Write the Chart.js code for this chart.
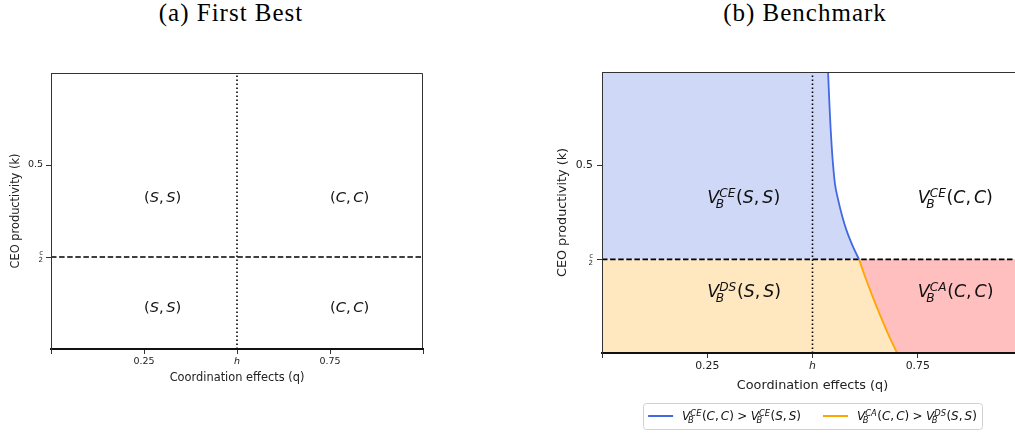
<!DOCTYPE html>
<html>
<head>
<meta charset="utf-8">
<script src="https://cdn.jsdelivr.net/npm/chart.js@4.4.1/dist/chart.umd.min.js"></script>
<style>
  html, body { margin: 0; padding: 0; background: #fff; width: 1015px; height: 435px; overflow: hidden; }
  .cap { position: absolute; top: 0; font-family: "Liberation Serif", serif; font-size: 25px; line-height: 26px;
         letter-spacing: 1px; color: #000; white-space: nowrap; transform: translateX(-50%); }
  canvas { position: absolute; top: 0; }
</style>
</head>
<body>
<div class="cap" style="left:231px">(a) First Best</div>
<div class="cap" style="left:805px">(b) Benchmark</div>
<canvas id="fb" width="507" height="435" style="left:0"></canvas>
<canvas id="bm" width="530" height="435" style="left:507px"></canvas>
<script>
// axis ticks
const qTicks = [0, 0.25, 0.5, 0.75, 1];
const qTickLabels = ['', '0.25', 'h', '0.75', ''];
const kTicks = [0.25, 0.5];
const kTickLabels = [['c', '2'], '0.5'];
const kMax = 0.75;
const hValue = 0.5;
const halfC = 0.25;

// boundary curves of panel (b)
const blueQ = [0.537, 0.5388, 0.5408, 0.543, 0.5457, 0.549, 0.5535, 0.5607, 0.5706, 0.580, 0.5901, 0.5997, 0.6105];
const blueK = [0.75, 0.70, 0.65, 0.60, 0.55, 0.50, 0.45, 0.41, 0.365, 0.33, 0.30, 0.275, 0.25];
const orangeQ = [0.6105, 0.626, 0.643, 0.661, 0.680, 0.701];
const orangeK = [0.25, 0.20, 0.15, 0.10, 0.05, 0];

// region labels
const labelsA = ['(S,S)', '(C,C)', '(S,S)', '(C,C)'];
const labelsAQ = [0.25, 0.75, 0.25, 0.75];
const labelsAK = [0.4, 0.4, 0.1, 0.1];
const labelsB = ['V_B^{CE}(S,S)', 'V_B^{CE}(C,C)', 'V_B^{DS}(S,S)', 'V_B^{CA}(C,C)'];
const labelsBQ = [0.25, 0.75, 0.25, 0.75];
const labelsBK = [0.4, 0.4, 0.15, 0.15];
const legendB = ['V_B^{CE}(C,C) > V_B^{CE}(S,S)', 'V_B^{CA}(C,C) > V_B^{DS}(S,S)'];

const SANS = '"DejaVu Sans"';
const pts = (qs, ks) => qs.map((q, i) => ({x: q, y: ks[i]}));

// --- tiny mathtext: letters italic, _{} and ^{} scripts ---
function parseMath(s) {
  const toks = [];
  let i = 0;
  while (i < s.length) {
    const ch = s[i];
    if (ch === '_' || ch === '^') {
      let grp;
      if (s[i + 1] === '{') { const e = s.indexOf('}', i + 1); grp = s.slice(i + 2, e); i = e + 1; }
      else { grp = s[i + 1]; i += 2; }
      toks[toks.length - 1][ch === '_' ? 'sub' : 'sup'] = grp;
    } else {
      if (ch !== ' ') toks.push({t: ch});
      i++;
    }
  }
  return toks;
}
function mfont(size, ch) {
  return (/[A-Za-z]/.test(ch) ? 'italic ' : '') + size + 'px ' + SANS;
}
function layoutMath(ctx, s, size) {
  const items = [];
  let x = 0;
  parseMath(s).forEach(tk => {
    if (tk.t === '>') x += size * 0.28;
    ctx.font = mfont(size, tk.t);
    items.push({ch: tk.t, x: x, dy: 0, size: size});
    x += ctx.measureText(tk.t).width;
    if (tk.t === '>') x += size * 0.28;
    if (tk.t === ',') x += size * 0.17;
    if (tk.sup || tk.sub) {
      const ss = size * 0.7;
      let w = 0;
      if (tk.sup) {
        let xx = x;
        for (const ch of tk.sup) { items.push({ch, x: xx, dy: -size * 0.36, size: ss}); ctx.font = mfont(ss, ch); xx += ctx.measureText(ch).width; }
        w = Math.max(w, xx - x);
      }
      if (tk.sub) {
        let xx = x - size * 0.2;
        for (const ch of tk.sub) { items.push({ch, x: xx, dy: size * (tk.sup ? 0.28 : 0.2), size: ss}); ctx.font = mfont(ss, ch); xx += ctx.measureText(ch).width; }
        w = Math.max(w, xx - x);
      }
      x += w + size * 0.04;
    }
  });
  return {items, width: x};
}
function drawMath(ctx, s, x, y, size) {
  const lay = layoutMath(ctx, s, size);
  ctx.save();
  ctx.fillStyle = '#111';
  ctx.textBaseline = 'alphabetic';
  ctx.textAlign = 'left';
  lay.items.forEach(it => { ctx.font = mfont(it.size, it.ch); ctx.fillText(it.ch, x + it.x, y + it.dy); });
  ctx.restore();
  return lay.width;
}

// --- plugins ---
const mathLabels = {
  id: 'mathLabels',
  afterDatasetsDraw(chart, args, opts) {
    const {ctx, scales: {x, y}} = chart;
    opts.texts.forEach((t, i) => drawMath(ctx, t, x.getPixelForValue(opts.q[i]), y.getPixelForValue(opts.k[i]), opts.size));
  }
};
const frame = {
  id: 'frame',
  afterDatasetsDraw(chart) {
    const {ctx, chartArea: a} = chart;
    ctx.save();
    ctx.strokeStyle = '#333';
    ctx.lineWidth = 1;
    ctx.beginPath();
    ctx.moveTo(a.left, a.top + 0.5);
    ctx.lineTo(a.right - 0.5, a.top + 0.5);
    ctx.lineTo(a.right - 0.5, a.bottom);
    ctx.stroke();
    ctx.restore();
  }
};
const mathLegend = {
  id: 'mathLegend',
  afterDraw(chart, args, opts) {
    const {ctx, chartArea: a} = chart;
    const size = opts.size, sample = 25, gap = 9, between = 22, pad = 5;
    const widths = opts.texts.map(t => layoutMath(ctx, t, size).width);
    let total = pad * 2 + between * (opts.texts.length - 1);
    widths.forEach(w => { total += sample + gap + w; });
    let x = (a.left + a.right) / 2 - total / 2;
    const top = opts.top, h = 26, mid = top + h / 2;
    ctx.save();
    ctx.fillStyle = 'rgba(255,255,255,0.8)';
    ctx.strokeStyle = '#d0d0d0';
    ctx.lineWidth = 1;
    ctx.beginPath();
    ctx.roundRect(Math.round(x) + 0.5, top + 0.5, Math.round(total), h, 3);
    ctx.fill();
    ctx.stroke();
    x += pad;
    opts.texts.forEach((t, i) => {
      ctx.strokeStyle = opts.colors[i];
      ctx.lineWidth = 2;
      ctx.beginPath();
      ctx.moveTo(x, mid);
      ctx.lineTo(x + sample, mid);
      ctx.stroke();
      x += sample + gap;
      drawMath(ctx, t, x, mid + 4, size);
      x += widths[i] + between;
    });
    ctx.restore();
  }
};

function axes(o) {
  return {
    x: {
      type: 'linear', min: 0, max: 1,
      afterBuildTicks: s => { s.ticks = qTicks.map(v => ({value: v})); },
      afterFit: s => { s.height = o.xh; },
      border: {display: true, color: '#111', width: 2, z: 1},
      grid: {drawOnChartArea: false, drawTicks: true, tickLength: o.tl, color: '#333'},
      ticks: {
        autoSkip: false, maxRotation: 0, padding: o.xpad, color: '#222',
        font: c => ({family: SANS, size: o.tick, style: (c.tick && c.tick.value === hValue) ? 'italic' : 'normal'}),
        callback: v => qTickLabels[qTicks.indexOf(v)]
      },
      title: {display: true, text: 'Coordination effects (q)', color: '#222',
              font: {family: SANS, size: o.lab}, padding: {top: 0, bottom: o.xtp}}
    },
    y: {
      type: 'linear', min: 0, max: kMax,
      afterBuildTicks: s => { s.ticks = kTicks.map(v => ({value: v})); },
      afterFit: s => { s.width = o.yw; },
      border: {display: true, color: '#333', width: 1, z: 1},
      grid: {drawOnChartArea: false, drawTicks: true, tickLength: o.tl, color: '#333'},
      ticks: {
        autoSkip: false, padding: o.ypad, color: '#222',
        font: c => (c.tick && c.tick.value === halfC) ? {family: SANS, size: 7, lineHeight: 1} : {family: SANS, size: o.tick},
        callback: v => kTickLabels[kTicks.indexOf(v)]
      },
      title: {display: true, text: 'CEO productivity (k)', color: '#222',
              font: {family: SANS, size: o.lab}, padding: {top: o.ytp, bottom: 0}}
    }
  };
}

const guideLines = [
  {data: [{x: 0, y: halfC}, {x: 1, y: halfC}], borderColor: '#000', borderWidth: 1.6, borderDash: [5.5, 2.6], order: 1},
  {data: [{x: hValue, y: 0}, {x: hValue, y: kMax}], borderColor: '#000', borderWidth: 1.6, borderDash: [1.6, 2.4], order: 1}
];
const base = {pointRadius: 0, fill: false, tension: 0};
const curve = {cubicInterpolationMode: 'monotone', borderWidth: 1.8, order: 0};
const area = {borderWidth: 0, borderColor: 'transparent', order: 5};

// (a) First Best
new Chart(document.getElementById('fb'), {
  type: 'line',
  data: {datasets: guideLines.map(d => Object.assign({}, base, d))},
  options: {
    responsive: false, animation: false, events: [],
    layout: {padding: {left: 0, top: 73, right: 84, bottom: 46}},
    scales: axes({xh: 40, yw: 51, tl: 5, xpad: 2, ypad: 3, tick: 9.5, lab: 11.4, xtp: 4.5, ytp: 9.2}),
    plugins: {
      legend: {display: false}, tooltip: {enabled: false},
      mathLabels: {texts: labelsA, q: labelsAQ, k: labelsAK, size: 14.7}
    }
  },
  plugins: [frame, mathLabels]
});

// (b) Benchmark
const blueColor = '#4169e1', orangeColor = '#ffa500';
new Chart(document.getElementById('bm'), {
  type: 'line',
  data: {
    datasets: [
      Object.assign({}, base, curve, {label: legendB[0], data: pts(blueQ, blueK), borderColor: blueColor}),
      Object.assign({}, base, curve, {label: legendB[1], data: pts(orangeQ, orangeK), borderColor: orangeColor}),
      ...guideLines.map(d => Object.assign({}, base, d)),
      Object.assign({}, base, area, {data: [{x: 0, y: kMax}].concat(pts(blueQ, blueK)),
        fill: {value: halfC}, backgroundColor: 'rgba(65,105,225,0.25)'}),
      Object.assign({}, base, area, {data: [{x: 0, y: halfC}].concat(pts(orangeQ, orangeK)),
        fill: 'origin', backgroundColor: 'rgba(255,165,0,0.25)'}),
      Object.assign({}, base, area, {data: pts(orangeQ, orangeK).concat([{x: 1, y: 0}]),
        fill: {value: halfC}, backgroundColor: 'rgba(255,0,0,0.25)'})
    ]
  },
  options: {
    responsive: false, animation: false, events: [],
    layout: {padding: {left: 40, top: 72, right: 14, bottom: 37}},
    scales: axes({xh: 45, yw: 55, tl: 5, xpad: 2, ypad: 4, tick: 10.9, lab: 12.8, xtp: 5, ytp: 8}),
    plugins: {
      legend: {display: false}, tooltip: {enabled: false},
      mathLabels: {texts: labelsB, q: labelsBQ, k: labelsBK, size: 17.4},
      mathLegend: {texts: legendB, colors: [blueColor, orangeColor], size: 12, top: 403}
    }
  },
  plugins: [frame, mathLabels, mathLegend]
});
</script>
</body>
</html>
